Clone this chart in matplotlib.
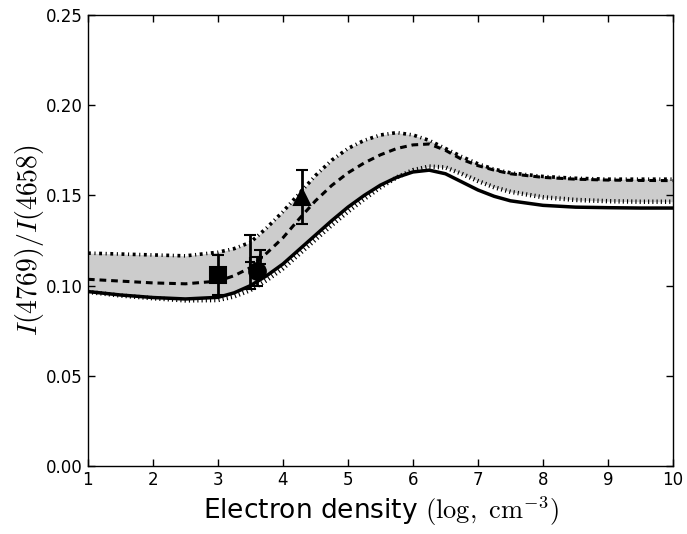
import numpy as np
import matplotlib
matplotlib.use("Agg")
import matplotlib.pyplot as plt

plt.rcParams['mathtext.fontset'] = 'cm'
plt.rcParams['font.family'] = ['DejaVu Sans']

density = [1, 1.5, 2, 2.5, 3, 3.25, 3.5, 3.75, 4, 4.25, 4.5, 4.75, 5, 5.25, 5.5,
           5.75, 6, 6.25, 6.5, 6.75, 7, 7.25, 7.5, 8, 8.5, 9, 9.5, 10]

solid = [0.0967, 0.0948, 0.0934, 0.0926, 0.0935, 0.0960, 0.1000, 0.1055, 0.1120,
         0.1200, 0.1280, 0.1360, 0.1435, 0.1500, 0.1557, 0.1600, 0.1630, 0.1640,
         0.1620, 0.1575, 0.1530, 0.1495, 0.1470, 0.1445, 0.1435, 0.1432, 0.1430, 0.1430]

dotted = [0.0965, 0.0945, 0.0930, 0.0918, 0.0920, 0.0940, 0.0975, 0.1030, 0.1095,
          0.1175, 0.1255, 0.1335, 0.1410, 0.1480, 0.1545, 0.1600, 0.1640, 0.1660,
          0.1655, 0.1620, 0.1580, 0.1545, 0.1520, 0.1490, 0.1475, 0.1468, 0.1465, 0.1465]

dashed = [0.1035, 0.1025, 0.1015, 0.1010, 0.1025, 0.1055, 0.1100, 0.1180, 0.1265,
          0.1370, 0.1470, 0.1555, 0.1625, 0.1680, 0.1725, 0.1760, 0.1780, 0.1785,
          0.1750, 0.1700, 0.1665, 0.1640, 0.1620, 0.1600, 0.1590, 0.1585, 0.1583, 0.1582]

dashdot = [0.1180, 0.1175, 0.1170, 0.1165, 0.1185, 0.1205, 0.1240, 0.1320, 0.1410,
           0.1510, 0.1610, 0.1695, 0.1760, 0.1805, 0.1835, 0.1848, 0.1835, 0.1805,
           0.1760, 0.1715, 0.1675, 0.1645, 0.1625, 0.1605, 0.1595, 0.1590, 0.1590, 0.1590]

# observed points
obs_x = [3.0, 3.5, 3.6, 3.65, 4.3]
obs_y = [0.106, 0.113, 0.108, 0.116, 0.149]
obs_err = [0.011, 0.015, 0.008, 0.004, 0.015]
obs_marker = ['s', '+', 'o', '+', '^']
obs_size = [12, 7, 12, 5, 12]

xticks = [1, 2, 3, 4, 5, 6, 7, 8, 9, 10]
yticks = [0.00, 0.05, 0.10, 0.15, 0.20, 0.25]

fig = plt.figure(figsize=(6.87, 5.34), dpi=100, facecolor='white')
ax = fig.add_axes([0.128, 0.1273, 0.8516, 0.8446])

x = np.array(density)
lower = np.maximum(np.array(solid), np.array(dotted))
ax.fill_between(x, lower, dashdot, color='#cccccc', lw=0, zorder=1)

ax.plot(x, solid, color='black', lw=2.5, ls='-', zorder=3)
ax.plot(x, dotted, color='black', lw=3.2, ls=(0, (0.25, 0.7)), zorder=3)
ax.plot(x, dashed, color='black', lw=2.2, ls=(0, (2.2, 1.6)), zorder=3)
ax.plot(x, dashdot, color='black', lw=2.6, ls=(0, (0.8, 1.0, 0.3, 1.0)), zorder=3)

for xi, yi, ei, m, s in zip(obs_x, obs_y, obs_err, obs_marker, obs_size):
    ax.errorbar(xi, yi, yerr=ei, fmt=m, color='black', ms=s, mew=1.5,
                elinewidth=2, capsize=4, capthick=1.2, zorder=5)

ax.set_xlim(1, 10)
ax.set_ylim(0, 0.25)
ax.set_xticks(xticks)
ax.set_yticks(yticks)
ax.set_yticklabels(['%.2f' % v for v in yticks])
ax.tick_params(direction='in', top=True, right=True, labelsize=12, length=5, width=1)
for sp in ax.spines.values():
    sp.set_linewidth(1)

ax.set_xlabel(r'Electron density $(\mathrm{log,\ cm^{-3}})$', fontsize=19, labelpad=4)
ax.set_ylabel(r'$I(4769)/I(4658)$', fontsize=20, labelpad=0)

fig.savefig('out.png', dpi=100, facecolor='white')
